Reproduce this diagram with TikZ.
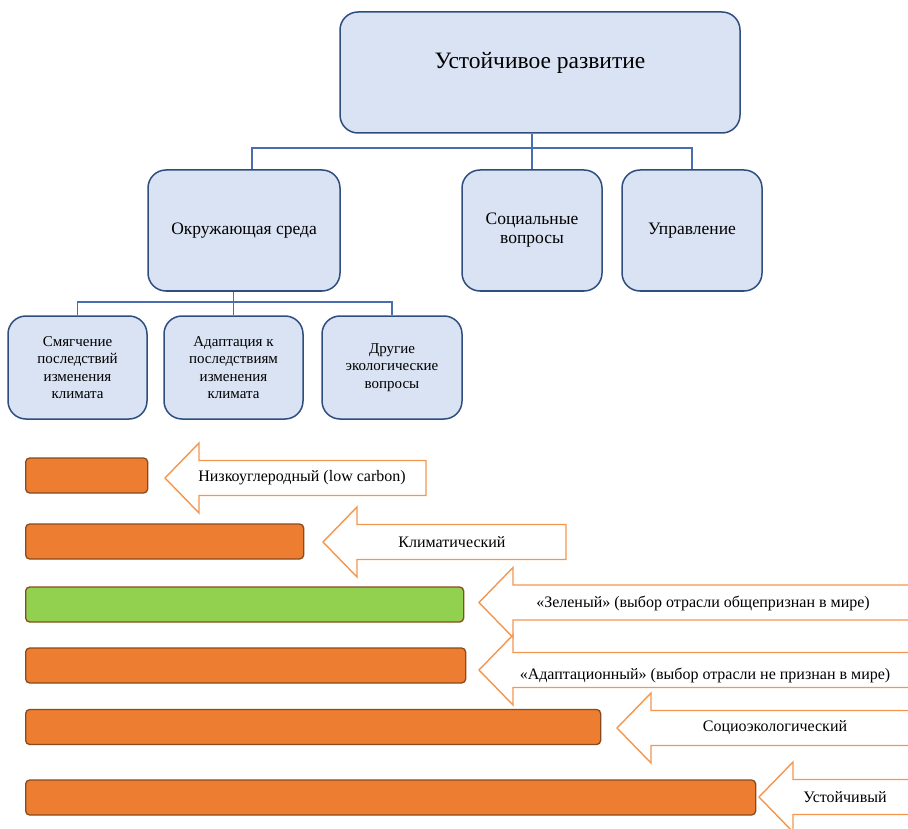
\documentclass[tikz,border=0pt]{standalone}
\usepackage{fontspec}
\setmainfont{Liberation Serif}
\usepackage{xcolor}
\usepackage{tikz}
\usetikzlibrary{calc}
\definecolor{boxfill}{HTML}{DAE3F3}
\definecolor{boxline}{HTML}{2F4D7E}
\definecolor{linkblue}{HTML}{4A6DB0}
\definecolor{barorange}{HTML}{ED7D31}
\definecolor{bargreen}{HTML}{92D050}
\definecolor{barline}{HTML}{8A4A1C}
\definecolor{arrline}{HTML}{F4964F}
\newcommand{\fs}[2]{\fontsize{#1}{#2}\selectfont}
% left block arrow: tip x, centre y, right end x
\newcommand{\blockarrow}[3]{%
  \draw[blockarr] (#1,#2) -- (#1+34,#2-35) -- (#1+34,#2-17.5) -- (#3,#2-17.5)
    -- (#3,#2+17.5) -- (#1+34,#2+17.5) -- (#1+34,#2+35) -- cycle;}

\begin{document}
\begin{tikzpicture}[x=1pt, y=-1pt,
  box/.style={draw=boxline, line width=1.5pt, fill=boxfill, rounded corners=18pt, align=center, inner sep=2pt, font=\fs{17.5}{19}},
  subbox/.style={box, minimum height=103, font=\fs{15}{17.5}},
  link/.style={draw=linkblue, line width=1.6pt},
  bar/.style={draw=barline, line width=1.3pt, rounded corners=4pt, fill=barorange, minimum height=35, anchor=west, inner sep=0pt},
  blockarr/.style={draw=arrline, line width=1.4pt, fill=white},
  arrtext/.style={font=\fs{16}{18}, inner sep=1pt}]
  \useasboundingbox (0,0) rectangle (908,829);
  \clip (0,0) rectangle (908,829);
  % tree
  \node[box, minimum width=400, minimum height=121, font=\fs{23.5}{26}, text depth=24pt] (top) at (540,72.5) {Устойчивое развитие};
  \node[box, minimum width=192, minimum height=121] (env) at (244,230.5) {Окружающая среда};
  \node[box, minimum width=140, minimum height=121] (soc) at (532,230.5) {Социальные\\вопросы};
  \node[box, minimum width=140, minimum height=121] (upr) at (692,230.5) {Управление};
  \node[subbox, minimum width=139] (smyg) at (77.5,367.5) {Смягчение\\последствий\\изменения\\климата};
  \node[subbox, minimum width=139] (adapt) at (233.5,367.5) {Адаптация к\\последствиям\\изменения\\климата};
  \node[subbox, minimum width=140] (drug) at (392,367.5) {Другие\\экологические\\вопросы};
  \draw[link] (soc.north |- top.south) -- (soc.north);
  \draw[link] ([xshift=8pt]env.north) -- ++(0,-21) -| (upr.north);
  \draw[link] (adapt.north |- env.south) -- (adapt.north);
  \draw[link] (smyg.north) -- ++(0,-13) -| (drug.north);
  % scale bars
  \node[bar, minimum width=122] (b1) at (25,475.5) {};
  \node[bar, minimum width=278] (b2) at (25,541.5) {};
  \node[bar, minimum width=438, fill=bargreen] (b3) at (25,604.5) {};
  \node[bar, minimum width=440] (b4) at (25,665.5) {};
  \node[bar, minimum width=575] (b5) at (25,727) {};
  \node[bar, minimum width=730] (b6) at (25,797.5) {};
  % block arrows
  \blockarrow{165}{478}{426}
  \blockarrow{323}{542}{566}
  \blockarrow{479}{602.5}{930}
  \blockarrow{479}{670}{930}
  \blockarrow{617}{728}{930}
  \blockarrow{759}{797}{930}
  \node[arrtext] (t1) at (302,478) {Низкоуглеродный (low carbon)};
  \node[arrtext] (t2) at (452,542) {Климатический};
  \node[arrtext] (t3) at (703,603) {«Зеленый» (выбор отрасли общепризнан в мире)};
  \node[arrtext] (t4) at (705,675) {«Адаптационный» (выбор отрасли не признан в мире)};
  \node[arrtext] (t5) at (775,728) {Социоэкологический};
  \node[arrtext] (t6) at (845,797) {Устойчивый};
\end{tikzpicture}
\end{document}
